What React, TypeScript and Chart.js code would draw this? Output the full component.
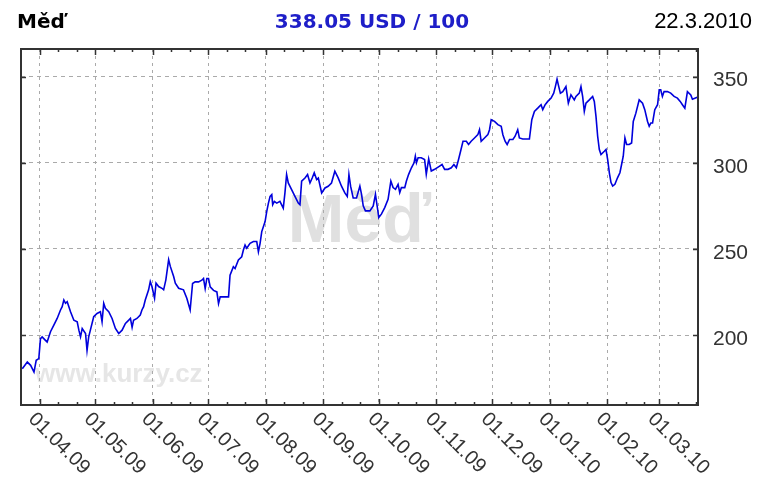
import React, { useEffect, useRef } from 'react';
import { Chart, registerables } from 'chart.js';

Chart.register(...registerables);

// ---- texts ----
const headerTitle = 'Měď';
const headerPrice = '338.05 USD / 100';
const headerDate = '22.3.2010';
const watermarkName = 'Měď';
const watermarkSite = 'www.kurzy.cz';

// ---- axes ----
const startDate = [2009, 3, 22]; // day 0 of the x axis
const endDate = [2010, 3, 22];
const monthLabels = [
  '01.04.09', '01.05.09', '01.06.09', '01.07.09', '01.08.09', '01.09.09',
  '01.10.09', '01.11.09', '01.12.09', '01.01.10', '01.02.10', '01.03.10',
];
const minorTickDayOfMonth = [11, 21];
const yTickValues = [200, 250, 300, 350];
const yMin = 159.5;
const yMax = 366;

// ---- series: day offset from startDate, price USD / 100 ----
const dayOffsets = [
  0.7, 3.4, 5.2, 7.0, 8.2, 9.6, 10.5, 11.4, 13.2, 14.1, 15.9, 17.7, 19.5, 21.3, 22.2, 23.1, 24.0, 24.9,
  26.7, 28.5, 30.3, 31.2, 32.1, 33.0, 34.8, 35.6, 36.5, 37.4, 39.2, 41.0, 42.8, 43.7, 44.6, 45.5, 47.3,
  49.1, 50.9, 52.7, 54.5, 56.3, 58.1, 59.0, 59.9, 60.7, 62.5, 64.3, 65.2, 66.1, 67.0, 68.8, 69.7, 70.6,
  72.0, 72.8, 74.2, 76.0, 76.9, 78.1, 79.6, 80.5, 82.3, 83.2, 85.0, 87.6, 89.4, 91.2,
  92.5, 93.9, 95.7, 97.5, 98.4, 99.3, 100.2, 101.1, 102.0, 103.8, 105.6, 106.5, 107.4, 109.2, 111.9,
  112.7, 114.5, 115.4, 117.2, 119.0, 119.9, 120.8, 121.7, 123.5, 125.3, 127.1, 128.0, 128.9, 129.8,
  131.6, 132.5, 133.4, 134.3, 135.2, 135.7, 136.6, 137.9, 139.6, 141.4, 142.3, 143.2, 144.1, 145.9,
  147.7, 149.5, 150.4, 151.3, 153.1, 154.5, 155.8, 157.0, 158.1, 159.4, 160.3, 162.1, 163.9, 165.6,
  167.4, 169.2, 171.0, 172.8, 174.6, 175.9, 176.8, 177.7, 179.1, 180.9,
  182.7, 183.6, 184.5, 185.7, 188.1, 189.9, 191.1, 192.0, 192.9, 194.3, 196.1, 197.9, 199.4, 200.6,
  201.9, 203.3, 204.2, 205.1, 206.9, 207.8, 209.0, 210.5, 211.9, 212.6, 213.2, 214.1, 215.8, 217.6,
  218.5, 219.8, 221.2, 223.0, 225.7, 227.0, 228.4, 230.2, 232.0, 233.4, 234.7, 235.9, 237.0, 238.3,
  240.1, 241.3, 242.7, 244.5, 246.3, 247.2, 248.1, 249.9, 251.7, 252.6, 253.5, 255.3, 257.1, 258.9,
  259.8, 261.0, 262.1, 263.4, 265.2, 266.4, 267.8, 268.7, 270.5, 272.3, 274.1,
  275.4, 276.8, 278.6, 280.4, 281.3, 282.6, 284.0, 285.8, 287.2, 288.1, 289.0, 289.7, 290.8, 292.1,
  293.8, 295.1, 296.5, 298.3, 299.2, 301.0, 301.9, 302.8, 303.7, 304.6, 306.4, 308.2, 309.1, 310.0,
  310.9, 311.8, 312.7, 314.5, 315.4, 316.3, 317.2, 318.1, 319.0, 320.2, 321.6, 322.9, 323.8, 324.7,
  325.6, 326.5, 327.9, 329.2, 330.1, 331.5, 333.3, 335.1, 336.3, 337.8, 338.7, 339.6, 340.5, 341.7,
  343.2, 344.1, 344.9, 345.8, 346.7, 348.5, 350.3, 352.1, 353.9, 355.4, 356.6, 357.9, 359.3, 361.1,
  362.0, 364.6,
];
const prices = [
  180.5, 184.4, 182.5, 178.6, 185.4, 186.4, 198, 199, 197, 196, 202, 205.8, 209.7, 214.6, 216.5, 220.4, 218.5, 219.4,
  213.6, 208.7, 207.8, 202.9, 199, 203.9, 201, 191.2, 199, 202.9, 210.7, 212.6, 213.6, 207.8, 218.5, 215.6, 213.6,
  209.7, 203.9, 201, 202.9, 206.8, 208.7, 209.7, 204.5, 208.7, 209.7, 211.7, 214.6, 216.5, 220.4, 226.3, 231.1, 228.2,
  221.4, 230.2, 228.2, 227.2, 226.3, 232.1, 243.8, 239.9, 234, 230.2, 227.2, 226.3, 221.4, 214.6,
  230, 230.9, 230.9, 231.9, 232.9, 227, 232.9, 232.9, 228, 226, 225.1, 218.3, 222.2, 222.2, 222.2,
  234.8, 239.7, 238.7, 243.6, 245.5, 249.4, 252.3, 250.4, 253.3, 254.3, 254.3, 248.4, 253.3, 260.1,
  265.9, 271.8, 276.6, 280.5, 281.5, 275.7, 277.6, 276.6, 277.6, 273.7, 282.5, 293.2, 288.3, 284.4,
  280.5, 276.6, 275.7, 289.3, 291.2, 293.2, 288.3, 291.2, 294.2, 290.3, 291.2, 282.5, 285.4, 286.4,
  288.3, 295.1, 291.2, 286.4, 282.5, 280.5, 293.2, 286.4, 279.6, 279.6,
  286.5, 281.7, 275, 272.1, 272.1, 275, 281.7, 275, 268.3, 270.2, 274, 278.8, 289.4, 285.6,
  284.6, 287.5, 282.7, 285.6, 285.6, 289.4, 293.3, 297.1, 300, 303.8, 300, 302.9, 302.9, 301.9,
  293.3, 302.3, 295.2, 296.2, 298.1, 299, 296.2, 296.2, 297.1, 299, 297.1, 301.9, 306.7, 312.5,
  312.5, 310.6, 312.5, 314.4, 316.3, 319.2, 312.5, 314.4, 316.3, 319.2, 325, 324, 322.1, 321.2,
  316.3, 312.5, 310.6, 313.5, 313.5, 315.4, 319.2, 314.4, 313.8, 313.8, 313.8,
  325, 329.8, 331.7, 333.7, 330.8, 333.7, 335.6, 337.5, 340.4, 344.2, 348.5, 345.2, 340.4, 341.3,
  344.2, 334.6, 339.4, 336.5, 338.5, 340.4, 344.2, 338.5, 329.8, 334.6, 336.5, 338.5, 335.6, 326.9,
  315.4, 307.7, 304.8, 306.7, 307.7, 301.9, 294.2, 288.5, 286.5, 287.5, 291.3, 294.2, 299, 303.8,
  314.4, 310.6, 310.6, 311.5, 324, 328.8, 336.5, 334.6, 330.8, 324, 321.2, 323.1, 323.1, 330.8,
  333.7, 342.3, 342.3, 338.5, 341.3, 341.3, 340.4, 338.5, 337.5, 335.6, 333.7, 331.7, 341.3, 339.4,
  336.9, 338.05,
];

const DAY_MS = 86400000;
const baseMs = Date.UTC(startDate[0], startDate[1] - 1, startDate[2]);
const dayOf = (y: number, m: number, d: number) => (Date.UTC(y, m - 1, d) - baseMs) / DAY_MS;
const xMax = dayOf(endDate[0], endDate[1], endDate[2]);
const monthDays = monthLabels.map((s) => {
  const [d, m, y] = s.split('.').map(Number);
  return dayOf(2000 + y, m, d);
});
const minorDays: number[] = [];
monthLabels.forEach((s) => {
  const [, m, y] = s.split('.').map(Number);
  minorTickDayOfMonth.forEach((dd) => minorDays.push(dayOf(2000 + y, m, dd)));
});
{
  // the minor ticks before the first month mark
  const [, m0, y0] = monthLabels[0].split('.').map(Number);
  minorTickDayOfMonth.forEach((dd) => minorDays.push(dayOf(2000 + y0, m0 - 1, dd)));
}

const SANS = '"Liberation Sans", Arial, sans-serif';

const decorPlugin = {
  id: 'decor',
  beforeDraw(chart: any) {
    const { ctx, chartArea: a } = chart;
    ctx.save();
    ctx.fillStyle = '#ffffff';
    ctx.fillRect(0, 0, chart.width, chart.height);
    // watermarks
    ctx.fillStyle = '#e0e0e0';
    ctx.font = `bold 68px ${SANS}`;
    ctx.textAlign = 'center';
    ctx.textBaseline = 'alphabetic';
    ctx.fillText(watermarkName, (a.left + a.right) / 2, a.top + 193);
    ctx.fillStyle = '#e6e6e6';
    ctx.font = `bold 26px ${SANS}`;
    ctx.textAlign = 'left';
    ctx.fillText(watermarkSite, a.left + 14, a.bottom - 23);
    // header
    ctx.fillStyle = '#000000';
    ctx.font = 'bold 20px "DejaVu Sans", Verdana, sans-serif';
    ctx.textAlign = 'left';
    ctx.fillText(headerTitle, 17, 28);
    ctx.fillStyle = '#1e1ec8';
    ctx.textAlign = 'center';
    ctx.fillText(headerPrice, 372, 28);
    ctx.fillStyle = '#000000';
    ctx.font = `22px ${SANS}`;
    ctx.textAlign = 'right';
    ctx.fillText(headerDate, 752, 28);
    ctx.restore();
  },
  afterDraw(chart: any) {
    const { ctx, chartArea: a } = chart;
    const xs = chart.scales.x;
    const ys = chart.scales.y;
    ctx.save();
    // ticks pointing inward
    ctx.strokeStyle = '#333333';
    ctx.lineWidth = 1.5;
    ctx.beginPath();
    const vTick = (d: number, len: number) => {
      const x = Math.round(xs.getPixelForValue(d)) + 0.5;
      if (x < a.left || x > a.right) return;
      ctx.moveTo(x, a.bottom);
      ctx.lineTo(x, a.bottom - len);
      ctx.moveTo(x, a.top);
      ctx.lineTo(x, a.top + len);
    };
    monthDays.forEach((d) => vTick(d, 6));
    minorDays.forEach((d) => vTick(d, 3));
    yTickValues.forEach((v) => {
      const y = Math.round(ys.getPixelForValue(v)) + 0.5;
      ctx.moveTo(a.left, y);
      ctx.lineTo(a.left + 5, y);
      ctx.moveTo(a.right, y);
      ctx.lineTo(a.right - 5, y);
    });
    ctx.stroke();
    // frame
    ctx.lineWidth = 2;
    ctx.strokeStyle = '#333333';
    ctx.strokeRect(a.left, a.top, a.right - a.left, a.bottom - a.top);
    // rotated x labels
    ctx.fillStyle = '#333333';
    ctx.font = `20px ${SANS}`;
    ctx.textAlign = 'left';
    ctx.textBaseline = 'top';
    monthLabels.forEach((lab, i) => {
      const x = xs.getPixelForValue(monthDays[i]);
      ctx.save();
      ctx.translate(x - 1, a.bottom + 4);
      ctx.rotate(Math.PI / 4);
      ctx.fillText(lab, 0, 0);
      ctx.restore();
    });
    ctx.restore();
  },
};

export default function App() {
  const canvasRef = useRef<HTMLCanvasElement | null>(null);

  useEffect(() => {
    if (!canvasRef.current) return;
    const chart = new Chart(canvasRef.current, {
      type: 'line',
      data: {
        datasets: [
          {
            data: dayOffsets.map((d, i) => ({ x: d, y: prices[i] })),
            borderColor: '#0000dc',
            borderWidth: 1.6,
            pointRadius: 0,
            tension: 0,
            fill: false,
          },
        ],
      },
      options: {
        animation: false,
        responsive: false,
        devicePixelRatio: 1,
        layout: { padding: { left: 21, top: 49, right: 0, bottom: 0 } },
        plugins: { legend: { display: false }, title: { display: false }, tooltip: { enabled: false } },
        scales: {
          x: {
            type: 'linear',
            position: 'bottom',
            min: 0,
            max: xMax,
            afterBuildTicks: (scale: any) => {
              scale.ticks = monthDays.map((v) => ({ value: v }));
            },
            afterFit: (scale: any) => {
              scale.height = 80;
            },
            ticks: { display: false },
            grid: { color: '#aaaaaa', lineWidth: 1, drawTicks: false },
            border: { display: false, dash: [3, 4] },
          },
          y: {
            type: 'linear',
            position: 'right',
            min: yMin,
            max: yMax,
            afterBuildTicks: (scale: any) => {
              scale.ticks = yTickValues.map((v) => ({ value: v }));
            },
            afterFit: (scale: any) => {
              scale.width = 64;
            },
            ticks: {
              padding: 15,
              labelOffset: 4,
              color: '#333333',
              font: { family: SANS, size: 21 },
            },
            grid: { color: '#aaaaaa', lineWidth: 1, drawTicks: false },
            border: { display: false, dash: [4, 4] },
          },
        },
      } as any,
      plugins: [decorPlugin],
    });
    return () => chart.destroy();
  }, []);

  return (
    <div style={{ position: 'absolute', left: 0, top: 0, width: 762, height: 485, background: '#fff' }}>
      <canvas ref={canvasRef} width={762} height={485} style={{ display: 'block' }} />
    </div>
  );
}
